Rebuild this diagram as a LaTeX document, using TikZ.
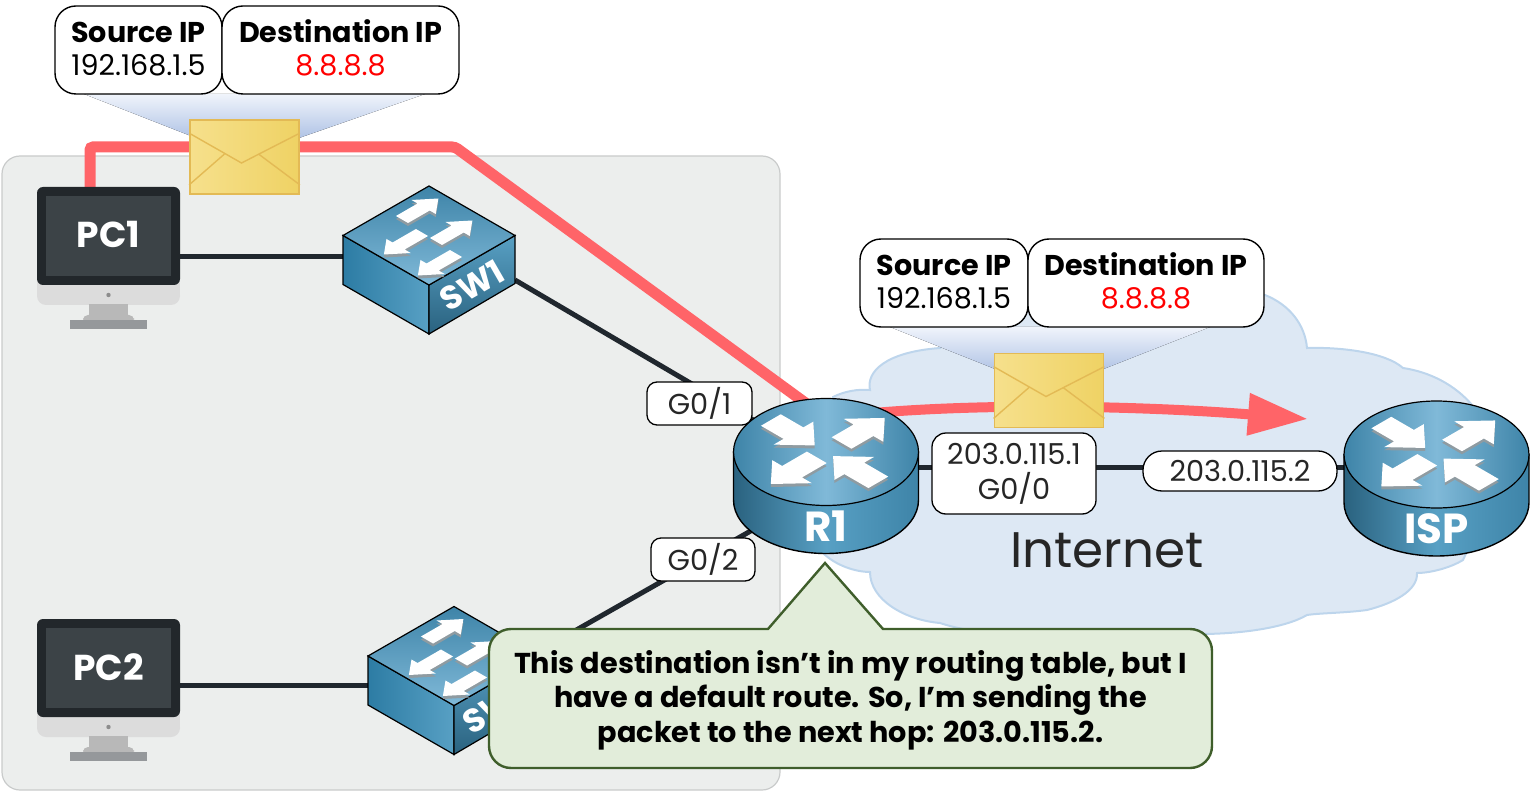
\documentclass[tikz,border=0pt]{standalone}
\usepackage{fontspec}
\setmainfont{Poppins}
\usepackage{xcolor}
\usepackage{tikz}
\usetikzlibrary{calc}
\usetikzlibrary{arrows.meta}

\pgfdeclarelayer{back}
\pgfdeclarelayer{links}
\pgfsetlayers{back,links,main}

\definecolor{panelgray}{HTML}{ECEEED}
\definecolor{paneledge}{HTML}{C9CBCB}
\definecolor{cloudfill}{HTML}{DDE8F4}
\definecolor{cloudedge}{HTML}{BDD5EC}
\definecolor{linkdark}{HTML}{20272E}
\definecolor{pktred}{HTML}{FF6468}
\definecolor{notefill}{HTML}{E2EDDA}
\definecolor{noteedge}{HTML}{3F5E2B}
\definecolor{envedge}{HTML}{E3BA55}
\definecolor{envlight}{HTML}{F6E08C}
\definecolor{envdeep}{HTML}{EFD264}
\definecolor{arrowshade}{HTML}{8F9BA1}
\definecolor{devdeep}{HTML}{3E84A8}
\definecolor{devlight}{HTML}{80B9D8}
\definecolor{devdark}{HTML}{2A627F}
\definecolor{devside}{HTML}{58A0C4}
\definecolor{devface}{HTML}{2D7CA4}
\definecolor{screenbody}{HTML}{22272B}
\definecolor{screenglass}{HTML}{3C4347}
\definecolor{chin}{HTML}{DCDCDC}
\definecolor{stand}{HTML}{B8B8B8}
\definecolor{standbase}{HTML}{95989B}
\definecolor{funneltop}{HTML}{F0F4FB}
\definecolor{funnelend}{HTML}{94AEDC}

\tikzset{
 addr/.style={rectangle, draw=black, line width=1.4pt, fill=white, rounded corners=21pt,
  align=center, inner sep=0pt, font=\fontsize{28.6}{33}\selectfont, text=black},
 port/.style={rectangle, draw=black, line width=1.3pt, fill=white, rounded corners=10pt,
  align=center, inner sep=0pt, font=\fontsize{28.8}{35}\selectfont, text=black!85},
 wire/.style={draw=linkdark, line width=5pt},
 pkt/.style={draw=pktred, line width=11pt},
 funnel/.style={top color=funneltop, bottom color=funnelend},
 devname/.style={text=white, font=\fontsize{#1}{#1}\selectfont\bfseries, inner sep=0pt}
}

\newcommand{\addrtop}{\rule{0pt}{27pt}}

\newcommand{\arrowpoly}[4]{(0,-#2) -- (#1-#4,-#2) -- (#1-#4,-#3) -- (#1,0) -- (#1-#4,#3) -- (#1-#4,#2) -- (0,#2) -- cycle}

\newcommand{\routerarrow}[3]{
 \foreach \off/\col in {-3/arrowshade,0/white}{
  \fill[\col, yshift=\off pt, yscale=0.58, rotate=#1, xshift=#2 pt] \arrowpoly{#3}{14}{28}{30};
 }
}

\newcommand{\routericon}[3]{
 \begin{scope}[shift={(#2,#3)}]
  \path[draw=black, line width=1.4pt, left color=devdark, right color=devdeep, middle color=devside]
   (-92.5,0) -- (-92.5,48) arc (180:360:92.5pt and 53.5pt) -- (92.5,0) -- cycle;
  \path[draw=black, line width=1.2pt, shading=axis, shading angle=45,
   left color=devdeep, right color=devdeep, middle color=devlight]
   (0,0) ellipse [x radius=92.5pt, y radius=53.5pt];
  \routerarrow{-45}{-78}{62}
  \routerarrow{45}{22}{61}
  \routerarrow{225}{13}{65}
  \routerarrow{135}{-74}{64}
  \coordinate (#1) at (0,15);
  \node[devname=42] (#1t) at (0,74) {#1};
 \end{scope}
}

\newcommand{\switcharrow}[5]{
 \foreach \off/\col in {-3/arrowshade,0/white}{
  \begin{scope}[yshift=\off pt, shift={(#1,#2)}, x={(.866pt,.5pt)}, y={(.866pt,-.5pt)}]
   \fill[\col, xscale=#3, yscale=#3] \arrowpoly{#4}{7}{14}{#5};
  \end{scope}
 }
}

\newcommand{\switchicon}[3]{
 \begin{scope}[shift={(#2,#3)}]
  \path[draw=black, line width=1.2pt, left color=devface, right color=devside]
   (-86,0) -- (0,49.5) -- (0,98.5) -- (-86,49) -- cycle;
  \path[draw=black, line width=1.2pt, top color=devside, bottom color=devdark]
   (0,49.5) -- (86,0) -- (86,48) -- (0,98.5) -- cycle;
  \path[draw=black, line width=1.2pt, top color=devdeep, bottom color=devlight]
   (-86,0) -- (0,-49.5) -- (86,0) -- (0,49.5) -- cycle;
  \switcharrow{-27}{-16}{1}{42}{17}
  \switcharrow{7}{6}{1}{42}{17}
  \switcharrow{-7}{-3}{-1}{44}{17}
  \switcharrow{27}{18}{-1}{44}{17}
  \node[devname=33, rotate=30] (#1) at (43,50) {#1};
 \end{scope}
}

\newcommand{\pcicon}[2]{
 \begin{scope}[shift={(0,#2)}]
  \fill[chin, rounded corners=9pt] (37,100) rectangle (180,118);
  \fill[chin] (37,95) rectangle (180,108);
  \fill[stand] (89,117) rectangle (128,134);
  \fill[stand, rounded corners=5pt] (83,128) rectangle (134,136);
  \fill[standbase] (70,133) rectangle (147,142);
  \fill[black!45] (108.5,108) circle (2.2pt);
  \node[rectangle, fill=screenbody, rounded corners=6pt, minimum width=143pt, minimum height=98pt, inner sep=0pt] (#1box) at (108.5,49) {};
  \node[rectangle, fill=screenglass, minimum width=125pt, minimum height=80pt, inner sep=0pt, devname=36] (#1) at (108.5,49) {\raisebox{2.5pt}{#1}};
 \end{scope}
}

\newcommand{\envelope}[3]{
 \node[rectangle, draw=envedge, line width=1.8pt, left color=envlight, right color=envdeep, minimum width=109pt, minimum height=74pt, inner sep=0pt] (#1) at (#2,#3) {};
 \draw[envedge, line width=1.4pt] ($(#1.north west)+(0,-14pt)$) -- ($(#1.center)+(-3pt,-6pt)$) -- ($(#1.north east)+(0,-14pt)$);
 \draw[envedge, line width=1.4pt] (#1.south west) ++(0,10pt) -- ($(#1.center)+(-20pt,3pt)$);
 \draw[envedge, line width=1.4pt] (#1.south east) ++(0,10pt) -- ($(#1.center)+(14pt,3pt)$);
}

\begin{document}
\begin{tikzpicture}[x=1pt, y=-1pt]
 \useasboundingbox (0,0) rectangle (1536,791);

 \begin{pgfonlayer}{back}
  \draw[fill=panelgray, draw=paneledge, line width=1.2pt, rounded corners=18pt] (2,156) rectangle (780,790);
  \draw[fill=cloudfill, draw=cloudedge, line width=2pt]
   (833,397) .. controls (845,391) and (858,389) .. (870,390)
   .. controls (866,372) and (885,352) .. (940,348)
   .. controls (960,330) and (1000,300) .. (1060,295)
   -- (1200,282) -- (1265,295)
   .. controls (1290,305) and (1305,325) .. (1307,348)
   .. controls (1340,347) and (1385,352) .. (1403,368)
   .. controls (1430,372) and (1455,385) .. (1472,405)
   -- (1500,480) -- (1463,560)
   .. controls (1450,568) and (1430,573) .. (1417,573)
   .. controls (1418,590) and (1395,603) .. (1367,610)
   .. controls (1345,613) and (1320,613) .. (1307,615)
   .. controls (1285,628) and (1240,634) .. (1200,634)
   -- (1000,634)
   .. controls (975,632) and (955,628) .. (940,623)
   .. controls (905,620) and (870,600) .. (870,572)
   .. controls (855,572) and (835,565) .. (823,553)
   -- cycle;
 \end{pgfonlayer}

 \pcicon{PC1}{187}
 \pcicon{PC2}{619}
 \switchicon{SW1}{429}{235.5}
 \switchicon{SW2}{454}{656}
 \routericon{R1}{826}{452}
 \routericon{ISP}{1436.5}{454.5}
 \envelope{envA}{244.5}{157}
 \envelope{envB}{1049}{390.5}

 \coordinate (SW1p) at (343,257);
 \coordinate (SW2p) at (368,685);
 \coordinate (SW1r) at (515,280);
 \coordinate (R1a) at (760,424);
 \coordinate (SW2r) at (520,662);
 \coordinate (R1b) at (770,520);
 \coordinate (PC1up) at (90,190);
 \coordinate (R1in) at (826,418);
 \coordinate (pktend) at (1308,419);

 \begin{pgfonlayer}{links}
  \draw[wire] (PC1box.east |- SW1p) -- (SW1p);
  \draw[wire] (PC2box.east |- SW2p) -- (SW2p);
  \draw[wire] (SW1r) -- (R1a);
  \draw[wire] (SW2r) -- (R1b);
  \draw[wire] (R1) -- (R1 -| ISP);
  \fill[funnel] (84,94) -- (envA.center) -- (425,94) -- cycle;
  \fill[funnel] (890,327) -- (envB.center) -- (1210,327) -- cycle;
  \draw[pkt, rounded corners=3pt] (PC1up) -- (90,147) -- (455,147) -- (R1in);
  \draw[pkt, line width=10pt, -{Triangle[length=60pt, width=40pt]}] (R1in) .. controls (950,402) and (1130,405) .. (pktend);
 \end{pgfonlayer}

 \node[addr, minimum width=167pt, minimum height=88pt] (srcA) at (138.5,50) {\addrtop\textbf{Source IP}\\\strut 192.168.1.5};
 \node[addr, minimum width=237pt, minimum height=88pt] (dstA) at (340.5,50) {\addrtop\textbf{Destination IP}\\\strut\textcolor{red}{8.8.8.8}};
 \node[addr, minimum width=168pt, minimum height=88pt] (srcB) at (944,283) {\addrtop\textbf{Source IP}\\\strut 192.168.1.5};
 \node[addr, minimum width=236pt, minimum height=88pt] (dstB) at (1146,283) {\addrtop\textbf{Destination IP}\\\strut\textcolor{red}{8.8.8.8}};

 \node[port, minimum width=105pt, minimum height=43pt] (G01) at (699.5,403.5) {\raisebox{1pt}{G0/1}};
 \node[port, minimum width=104pt, minimum height=43pt] (G02) at (703,559.5) {\raisebox{2pt}{G0/2}};
 \node[port, rounded corners=14pt, minimum width=164pt, minimum height=81pt] (G00) at (1014,473.5) {203.0.115.1\\G0/0};
 \node[port, rounded corners=19pt, minimum width=194pt, minimum height=40pt] (ispip) at (1240,471) {\raisebox{1pt}{203.0.115.2}};

 \node[text=black!85, font=\fontsize{50}{50}\selectfont, inner sep=0pt] (inet) at (1107,550) {Internet};

 \draw[fill=notefill, draw=noteedge, line width=2.4pt]
  (768,629) -- (825,563) -- (883,629) -- (1190,629) arc (90:0:22pt) -- (1212,746) arc (0:-90:22pt)
  -- (511,768) arc (270:180:22pt) -- (489,651) arc (180:90:22pt) -- cycle;
 \node[align=center, inner sep=0pt, font=\fontsize{28.7}{34.5}\selectfont\bfseries] (note) at (850.5,700) {This destination isn’t in my routing table, but I\\have a default route. So, I’m sending the\\packet to the next hop: 203.0.115.2.};
\end{tikzpicture}
\end{document}
